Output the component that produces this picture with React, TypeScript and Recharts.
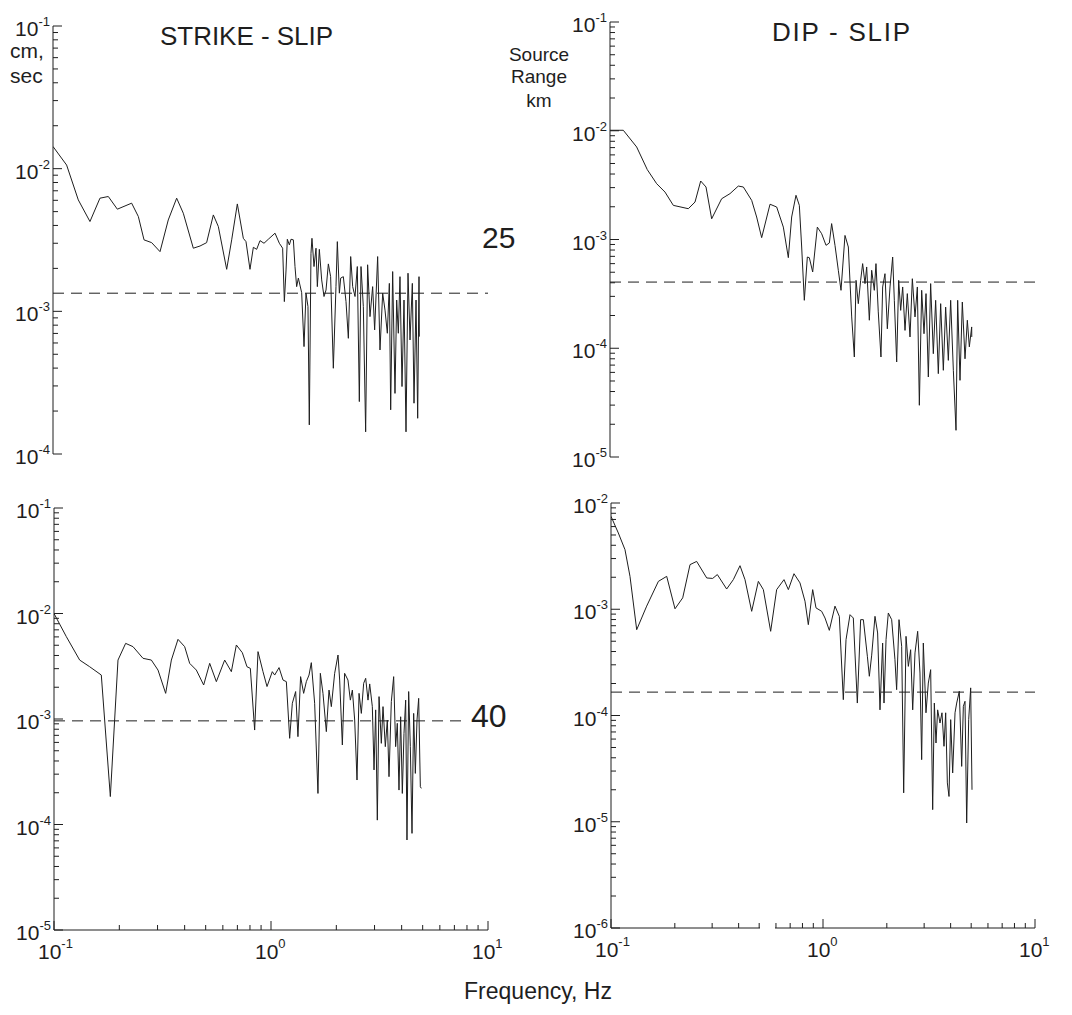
import React from "react";
import { LineChart, Line, XAxis, YAxis, ReferenceLine } from "recharts";

const INK = "#1e1e1e";
const FONT = "'Liberation Sans', Arial, sans-serif";

// strike-slip, 25 km
const ssNearFreq = [
  0.1, 0.1155, 0.1307, 0.1479, 0.1644, 0.1796, 0.1976, 0.2299, 0.2468, 0.2621,
  0.2842, 0.3105, 0.3388, 0.3703, 0.3973, 0.4417, 0.4742, 0.5085, 0.546, 0.5757,
  0.6288, 0.663, 0.7039, 0.7499, 0.7715, 0.8048, 0.834, 0.8637, 0.8948, 0.9335,
  0.977, 1.049, 1.098, 1.137, 1.158, 1.179, 1.195, 1.221, 1.242, 1.274,
  1.296, 1.319, 1.343, 1.391, 1.426, 1.456, 1.487, 1.508, 1.535, 1.551,
  1.585, 1.619, 1.642, 1.677, 1.719, 1.762, 1.8, 1.845, 1.89, 1.945,
  2.0, 2.029, 2.073, 2.102, 2.162, 2.224, 2.28, 2.337, 2.387, 2.447,
  2.507, 2.561, 2.607, 2.672, 2.738, 2.796, 2.867, 2.949, 3.012, 3.109,
  3.187, 3.279, 3.361, 3.445, 3.519, 3.569, 3.645, 3.736, 3.803, 3.87,
  3.939, 4.024, 4.11, 4.198, 4.288, 4.38, 4.489, 4.569, 4.667, 4.75,
  4.817, 4.834,
];
const ssNearAmp = [
  1.43e-2, 1.06e-2, 6.04e-3, 4.26e-3, 6.21e-3, 6.38e-3, 5.2e-3, 5.73e-3, 4.62e-3, 3.17e-3,
  3.03e-3, 2.62e-3, 4.37e-3, 6.21e-3, 4.87e-3, 2.77e-3, 2.87e-3, 3.03e-3, 4.74e-3, 3.93e-3,
  1.97e-3, 3.17e-3, 5.66e-3, 3.25e-3, 3.08e-3, 1.97e-3, 2.81e-3, 2.72e-3, 3.13e-3, 3.0e-3,
  3.2e-3, 3.53e-3, 3.0e-3, 2.77e-3, 1.17e-3, 1.95e-3, 3.2e-3, 2.92e-3, 3.2e-3, 3.17e-3,
  2.06e-3, 1.49e-3, 1.71e-3, 1.35e-3, 5.66e-4, 1.34e-3, 1.08e-3, 1.6e-4, 2.55e-3, 3.25e-3,
  2.06e-3, 2.77e-3, 1.49e-3, 2.72e-3, 1.66e-3, 1.27e-3, 1.41e-3, 2.15e-3, 1.75e-3, 3.99e-4,
  1.49e-3, 3.08e-3, 1.34e-3, 1.71e-3, 1.75e-3, 1.17e-3, 6.47e-4, 2.42e-3, 1.49e-3, 1.27e-3,
  2.06e-3, 2.33e-4, 2.06e-3, 1.08e-3, 1.43e-4, 2.12e-3, 9.18e-4, 1.49e-3, 7.41e-4, 2.42e-3,
  5.36e-4, 1.34e-3, 1.02e-3, 7.02e-4, 1.57e-3, 2.04e-4, 1.9e-3, 2.66e-4, 1.2e-3, 7.02e-4,
  1.75e-3, 2.97e-4, 1.2e-3, 1.43e-4, 1.85e-3, 6.3e-4, 1.57e-3, 2.27e-4, 1.2e-3, 1.78e-4,
  1.75e-3, 6.65e-4,
];

// dip-slip, 25 km
const dsNearFreq = [
  0.1, 0.1155, 0.1335, 0.1498, 0.1658, 0.1815, 0.1986, 0.2336, 0.2512, 0.2672,
  0.283, 0.3009, 0.3353, 0.367, 0.4016, 0.4241, 0.4642, 0.4899, 0.5173, 0.5663,
  0.6087, 0.6542, 0.6906, 0.716, 0.7503, 0.778, 0.798, 0.8212, 0.8485, 0.867,
  0.899, 0.9456, 0.991, 1.039, 1.077, 1.104, 1.145, 1.187, 1.222, 1.276,
  1.323, 1.372, 1.412, 1.438, 1.474, 1.512, 1.545, 1.585, 1.614, 1.661,
  1.704, 1.753, 1.785, 1.83, 1.884, 1.919, 1.968, 2.019, 2.078, 2.139,
  2.178, 2.234, 2.283, 2.333, 2.384, 2.445, 2.507, 2.581, 2.647, 2.725,
  2.795, 2.856, 2.929, 3.004, 3.07, 3.148, 3.228, 3.323, 3.408, 3.508,
  3.598, 3.704, 3.798, 3.91, 4.01, 4.128, 4.249, 4.326, 4.437, 4.55,
  4.684, 4.804, 4.909, 5.035, 5.04,
];
const dsNearAmp = [
  1.01e-2, 1.01e-2, 7.09e-3, 4.39e-3, 3.26e-3, 2.73e-3, 2.06e-3, 1.92e-3, 2.21e-3, 3.45e-3,
  3.04e-3, 1.55e-3, 2.37e-3, 2.64e-3, 3.1e-3, 3.04e-3, 2.29e-3, 1.61e-3, 1.04e-3, 2.11e-3,
  1.99e-3, 1.3e-3, 6.81e-4, 1.61e-3, 2.55e-3, 2.06e-3, 8.53e-4, 2.76e-4, 6.9e-4, 6.8e-4,
  5.03e-4, 1.3e-3, 1.13e-3, 8.84e-4, 9.29e-4, 1.4e-3, 8.84e-4, 5.21e-4, 3.41e-4, 1.09e-3,
  8.53e-4, 1.94e-4, 8.31e-5, 4.21e-4, 2.57e-4, 4.21e-4, 6.0e-4, 3.93e-4, 5.59e-4, 1.81e-4,
  5.21e-4, 3.41e-4, 6.0e-4, 2.16e-4, 8.31e-5, 3.66e-4, 4.85e-4, 1.51e-4, 3.66e-4, 6.9e-4,
  2.76e-4, 7.48e-5, 4.21e-4, 2.23e-4, 3.66e-4, 1.46e-4, 3.18e-4, 1.27e-4, 4.36e-4, 1.94e-4,
  3.66e-4, 2.99e-5, 3.41e-4, 1.36e-4, 3.18e-4, 5.44e-5, 3.93e-4, 8.91e-5, 2.76e-4, 5.84e-5,
  2.57e-4, 6.27e-5, 2.39e-4, 7.74e-5, 2.76e-4, 6.27e-5, 1.76e-5, 2.76e-4, 5.07e-5, 2.66e-4,
  8.0e-5, 1.81e-4, 1.03e-4, 1.57e-4, 1.27e-4,
];

// strike-slip, 40 km
const ssFarFreq = [
  0.1, 0.114, 0.1313, 0.146, 0.1652, 0.1818, 0.1972, 0.2139, 0.2312, 0.2571,
  0.2809, 0.3015, 0.327, 0.3474, 0.3727, 0.4001, 0.4219, 0.4528, 0.4894, 0.5218,
  0.56, 0.6117, 0.6566, 0.6923, 0.7378, 0.775, 0.8031, 0.8407, 0.8712, 0.9185,
  0.9585, 1.014, 1.04, 1.089, 1.136, 1.177, 1.219, 1.254, 1.299, 1.331,
  1.369, 1.414, 1.455, 1.497, 1.534, 1.589, 1.646, 1.688, 1.736, 1.799,
  1.851, 1.897, 1.965, 2.036, 2.072, 2.132, 2.184, 2.263, 2.321, 2.371,
  2.43, 2.491, 2.545, 2.608, 2.673, 2.731, 2.799, 2.85, 2.931, 2.984,
  3.036, 3.09, 3.147, 3.224, 3.282, 3.364, 3.436, 3.498, 3.585, 3.675,
  3.753, 3.82, 3.889, 3.958, 4.029, 4.101, 4.174, 4.233, 4.309, 4.386,
  4.465, 4.544, 4.625, 4.708, 4.792, 4.877, 4.93,
];
const ssFarAmp = [
  1.0e-2, 6.03e-3, 3.62e-3, 3.13e-3, 2.61e-3, 1.84e-4, 3.62e-3, 5.21e-3, 4.85e-3, 3.76e-3,
  3.62e-3, 2.91e-3, 1.75e-3, 3.62e-3, 5.69e-3, 4.85e-3, 3.37e-3, 2.91e-3, 2.1e-3, 3.37e-3,
  2.26e-3, 3.62e-3, 2.81e-3, 5.03e-3, 4.25e-3, 3.13e-3, 3.02e-3, 7.86e-4, 4.35e-3, 2.81e-3,
  2.03e-3, 2.81e-3, 2.61e-3, 3.07e-3, 2.34e-3, 2.26e-3, 6.56e-4, 1.41e-3, 1.82e-3, 6.8e-4,
  2.52e-3, 1.75e-3, 2.26e-3, 2.61e-3, 3.42e-3, 1.41e-3, 1.97e-4, 2.71e-3, 1.75e-3, 7.59e-4,
  1.88e-3, 1.31e-3, 2.71e-3, 4.04e-3, 2.34e-3, 5.67e-4, 2.71e-3, 2.34e-3, 1.51e-3, 1.88e-3,
  9.78e-4, 2.64e-4, 1.75e-3, 1.13e-3, 2.18e-3, 2.43e-3, 1.51e-3, 2.15e-3, 1.31e-3, 3.29e-4,
  1.22e-3, 1.1e-4, 1.63e-3, 5.88e-4, 1.31e-3, 5.47e-4, 9.78e-4, 2.84e-4, 1.46e-3, 2.52e-3,
  5.47e-4, 9.1e-4, 2.12e-4, 1.05e-3, 1.97e-4, 7.31e-4, 1.51e-3, 7.13e-5, 1.82e-3, 5.47e-4,
  8.24e-5, 1.13e-3, 3.05e-4, 9.78e-4, 1.57e-3, 2.28e-4, 2.2e-4,
];

// dip-slip, 40 km
const dsFarFreq = [
  0.1, 0.1083, 0.1164, 0.1229, 0.1322, 0.1473, 0.1673, 0.1831, 0.2004, 0.2179,
  0.2359, 0.2535, 0.2828, 0.3017, 0.3174, 0.3512, 0.3776, 0.406, 0.4286, 0.4609,
  0.4955, 0.5232, 0.5664, 0.6045, 0.6546, 0.6864, 0.7297, 0.7788, 0.8224, 0.8526,
  0.8939, 0.9268, 0.9856, 1.022, 1.071, 1.139, 1.194, 1.247, 1.284, 1.341,
  1.39, 1.452, 1.505, 1.55, 1.619, 1.654, 1.697, 1.759, 1.81, 1.857,
  1.911, 1.94, 1.983, 2.033, 2.108, 2.185, 2.225, 2.283, 2.35, 2.402,
  2.464, 2.527, 2.591, 2.649, 2.716, 2.796, 2.867, 2.92, 2.973, 3.06,
  3.139, 3.22, 3.291, 3.351, 3.412, 3.474, 3.563, 3.641, 3.722, 3.79,
  3.86, 3.93, 4.002, 4.09, 4.195, 4.272, 4.395, 4.51, 4.592, 4.676,
  4.761, 4.866, 4.973, 5.045,
];
const dsFarAmp = [
  7.49e-3, 5.22e-3, 3.64e-3, 2.04e-3, 6.42e-4, 1.07e-3, 1.83e-3, 2.04e-3, 1.01e-3, 1.28e-3,
  2.63e-3, 2.82e-3, 1.97e-3, 1.95e-3, 2.12e-3, 1.55e-3, 1.9e-3, 2.57e-3, 1.9e-3, 9.56e-4,
  1.83e-3, 1.53e-3, 6.2e-4, 1.53e-3, 1.9e-3, 1.53e-3, 2.16e-3, 1.77e-3, 1.19e-3, 7.16e-4,
  1.53e-3, 1.03e-3, 9.56e-4, 8.27e-4, 6.33e-4, 1.07e-3, 8.58e-4, 1.41e-4, 5.17e-4, 8.89e-4,
  8.27e-4, 1.31e-4, 7.98e-4, 7.98e-4, 3.61e-4, 2.34e-4, 3.7e-4, 8.58e-4, 5.98e-4, 1.13e-4,
  4.81e-4, 1.31e-4, 5.17e-4, 9.22e-4, 7.98e-4, 3.35e-4, 1.75e-4, 7.98e-4, 4.48e-4, 1.87e-5,
  5.56e-4, 2.9e-4, 4.16e-4, 1.13e-4, 3.88e-4, 6.2e-4, 2.51e-4, 3.84e-5, 4.81e-4, 1.06e-4,
  2.02e-4, 2.7e-4, 1.3e-5, 1.31e-4, 5.51e-5, 1.13e-4, 8.5e-5, 1.06e-4, 5.13e-5, 1.06e-4,
  2.32e-5, 1.73e-5, 9.14e-5, 2.88e-5, 1.06e-4, 1.31e-4, 1.69e-4, 3.32e-5, 1.22e-4, 1.36e-4,
  9.73e-6, 9.14e-5, 1.82e-4, 2.0e-5,
];

// noise levels (dashed)
const ssNearNoise = 1.34e-3;
const dsNearNoise = 4.06e-4;
const ssFarNoise = 9.6e-4;
const dsFarNoise = 1.66e-4;

const freqDecades = [-1, 1];

function logTicks(lo: number, hi: number) {
  const out: number[] = [];
  for (let e = lo; e < hi; e++) {
    for (let m = 1; m < 10; m++) out.push(Number((m * Math.pow(10, e)).toPrecision(3)));
  }
  out.push(Number(Math.pow(10, hi).toPrecision(3)));
  return out;
}

const isMajor = (v: number) => {
  const l = Math.log10(v);
  return Math.abs(l - Math.round(l)) < 1e-6;
};
const expOf = (v: number) => String(Math.round(Math.log10(v)));

function YTick(props: any) {
  const { x, y, payload } = props;
  const v = payload.value;
  const major = isMajor(v);
  return (
    <g>
      <line x1={x} x2={x + (major ? 9 : 5)} y1={y} y2={y} stroke={INK} strokeWidth={1} />
      {major && (
        <text x={x - 3} y={y + 10} textAnchor="end" fontFamily={FONT} fontSize={21} fill={INK}>
          10
          <tspan dy={-10} fontSize={13}>{expOf(v)}</tspan>
        </text>
      )}
    </g>
  );
}

function XTick(props: any) {
  const { x, y, payload } = props;
  const v = payload.value;
  const major = isMajor(v);
  return (
    <g>
      <line x1={x} x2={x} y1={y} y2={y - (major ? 9 : 5)} stroke={INK} strokeWidth={1} />
      {major && (
        <text x={x - 16} y={y + 29} textAnchor="start" fontFamily={FONT} fontSize={21} fill={INK}>
          10
          <tspan dy={-11} fontSize={13}>{expOf(v)}</tspan>
        </text>
      )}
    </g>
  );
}

interface PanelProps {
  freq: number[];
  amp: number[];
  decades: [number, number];
  noise: number;
  noiseEnd?: number;
  showX: boolean;
  box: { left: number; top: number; width: number; height: number };
  yWidth: number;
  margin: { top: number; right: number; bottom: number; left: number };
}

function Panel({ freq, amp, decades, noise, noiseEnd, showX, box, yWidth, margin }: PanelProps) {
  const n = Math.min(freq.length, amp.length);
  const data = freq.slice(0, n).map((f, i) => ({ f, v: amp[i] }));
  const xTicks = logTicks(freqDecades[0], freqDecades[1]);
  const yTicks = logTicks(decades[0], decades[1]);
  return (
    <div style={{ position: "absolute", left: box.left, top: box.top }}>
      <LineChart width={box.width} height={box.height} data={data} margin={margin}>
        <XAxis
          dataKey="f"
          type="number"
          scale="log"
          domain={[Math.pow(10, freqDecades[0]), Math.pow(10, freqDecades[1])]}
          ticks={xTicks}
          interval={0}
          allowDataOverflow
          hide={!showX}
          height={40}
          tickSize={0}
          tickMargin={0}
          tickLine={false}
          axisLine={{ stroke: INK, strokeWidth: 1 }}
          tick={(p: any) => <XTick {...p} />}
        />
        <YAxis
          type="number"
          scale="log"
          domain={[Math.pow(10, decades[0]), Math.pow(10, decades[1])]}
          ticks={yTicks}
          interval={0}
          allowDataOverflow
          width={yWidth}
          tickSize={0}
          tickMargin={0}
          tickLine={false}
          axisLine={{ stroke: INK, strokeWidth: 1 }}
          tick={(p: any) => <YTick {...p} />}
        />
        {noiseEnd ? (
          <ReferenceLine
            segment={[
              { x: 0.1, y: noise },
              { x: noiseEnd, y: noise },
            ]}
            stroke={INK}
            strokeWidth={1}
            strokeDasharray="11 7"
          />
        ) : (
          <ReferenceLine y={noise} stroke={INK} strokeWidth={1} strokeDasharray="11 7" />
        )}
        <Line
          type="linear"
          dataKey="v"
          stroke={INK}
          strokeWidth={1}
          dot={false}
          activeDot={false}
          isAnimationActive={false}
        />
      </LineChart>
    </div>
  );
}

export default function App() {
  const txt = { fontFamily: FONT, fill: INK } as const;
  return (
    <div style={{ position: "relative", width: 1072, height: 1015, background: "#fff" }}>
      <style>{"body{margin:0;background:#fff}"}</style>
      <Panel
        freq={ssNearFreq}
        amp={ssNearAmp}
        decades={[-4, -1]}
        noise={ssNearNoise}
        showX={false}
        box={{ left: 0, top: 0, width: 540, height: 480 }}
        yWidth={53}
        margin={{ top: 26, right: 52, bottom: 26, left: 0 }}
      />
      <Panel
        freq={dsNearFreq}
        amp={dsNearAmp}
        decades={[-5, -1]}
        noise={dsNearNoise}
        showX={false}
        box={{ left: 540, top: 0, width: 532, height: 480 }}
        yWidth={70}
        margin={{ top: 22, right: 37, bottom: 23, left: 0 }}
      />
      <Panel
        freq={ssFarFreq}
        amp={ssFarAmp}
        decades={[-5, -1]}
        noise={ssFarNoise}
        noiseEnd={7.8}
        showX
        box={{ left: 0, top: 480, width: 540, height: 535 }}
        yWidth={54}
        margin={{ top: 28, right: 52, bottom: 45, left: 0 }}
      />
      <Panel
        freq={dsFarFreq}
        amp={dsFarAmp}
        decades={[-6, -2]}
        noise={dsFarNoise}
        showX
        box={{ left: 540, top: 480, width: 532, height: 535 }}
        yWidth={71}
        margin={{ top: 23, right: 37, bottom: 47, left: 0 }}
      />
      <svg
        width={1072}
        height={1015}
        style={{ position: "absolute", left: 0, top: 0, pointerEvents: "none" }}
      >
        <rect x={760} y={925} width={15} height={6} fill="#fff" />
        <text x={10} y={58} fontSize={21} {...txt}>cm,</text>
        <text x={10} y={83} fontSize={21} {...txt}>sec</text>
        <text x={160} y={45} fontSize={26} textLength={173} {...txt}>STRIKE - SLIP</text>
        <text x={772} y={41} fontSize={26} textLength={138} {...txt}>DIP - SLIP</text>
        <text x={539} y={61} fontSize={19} textAnchor="middle" {...txt}>Source</text>
        <text x={539} y={83} fontSize={19} textAnchor="middle" {...txt}>Range</text>
        <text x={539} y={107} fontSize={19} textAnchor="middle" {...txt}>km</text>
        <text x={482} y={248} fontSize={30} {...txt}>25</text>
        <text x={471} y={727} fontSize={32} {...txt}>40</text>
        <text x={538} y={999} fontSize={23} textAnchor="middle" {...txt}>Frequency, Hz</text>
      </svg>
    </div>
  );
}
